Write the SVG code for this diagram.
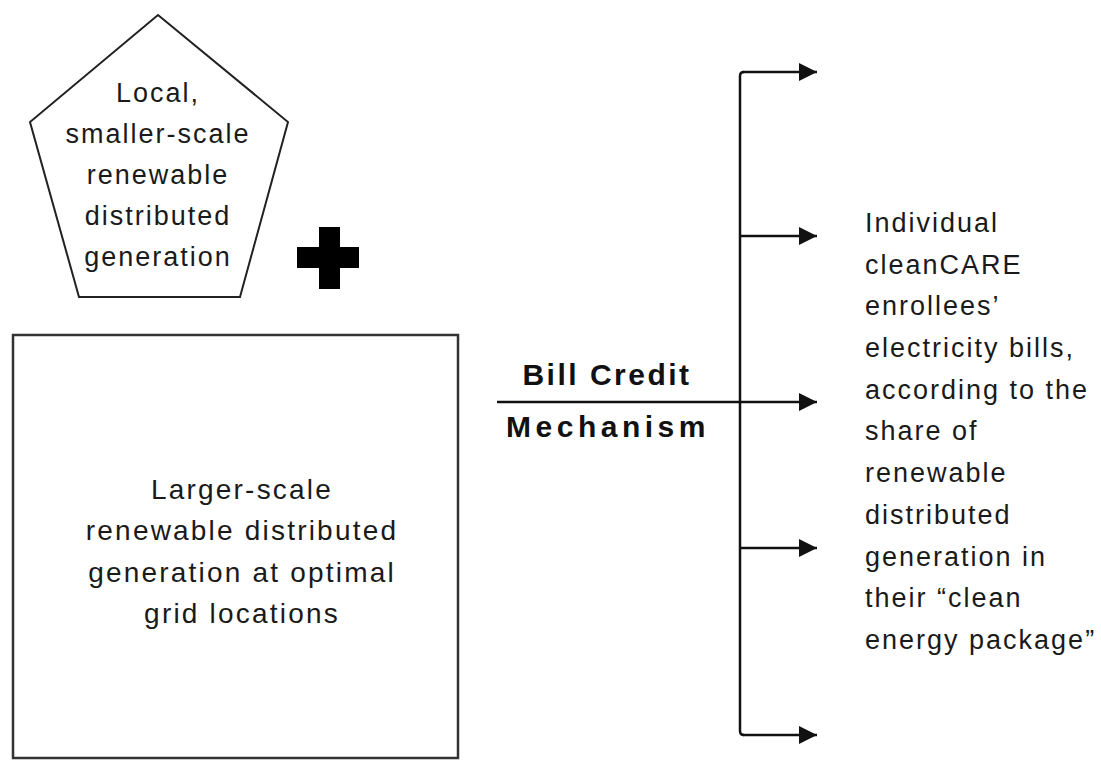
<svg xmlns="http://www.w3.org/2000/svg" width="1101" height="760" viewBox="0 0 1101 760">
<style>
.lbl{font-family:"Liberation Sans",Arial,sans-serif;font-size:27px;fill:#1a1a1a;letter-spacing:2px}
.big{font-size:28px;letter-spacing:2.2px}
.mid{text-anchor:middle}
.bold{font-family:"Liberation Sans",Arial,sans-serif;font-size:30px;font-weight:bold;fill:#111;letter-spacing:2.5px;text-anchor:middle}
.shape{fill:#fff;stroke:#222;stroke-width:2}
.conn{stroke:#111;stroke-width:2.5;fill:none}
</style>
<defs>
<marker id="arr" markerUnits="userSpaceOnUse" markerWidth="20" markerHeight="18" refX="18" refY="9" orient="auto">
<path d="M0,0 L18,9 L0,18 Z" fill="#111"/>
</marker>
</defs>
<rect width="1101" height="760" fill="#fff"/>
<g id="pentagon">
<polygon class="shape" points="158,15 288,122 240,297 79,297 30,122"/>
<text class="lbl mid" x="158" y="102">Local,</text>
<text class="lbl mid" x="158" y="143">smaller-scale</text>
<text class="lbl mid" x="158" y="184">renewable</text>
<text class="lbl mid" x="158" y="225">distributed</text>
<text class="lbl mid" x="158" y="266">generation</text>
</g>
<g id="plus">
<rect x="319" y="227" width="21" height="62" fill="#000"/>
<rect x="297" y="247" width="62" height="21" fill="#000"/>
</g>
<g id="box">
<rect x="13" y="335" width="445" height="423" fill="#fff" stroke="#333" stroke-width="2.5"/>
<text class="lbl big mid" x="242" y="499">Larger-scale</text>
<text class="lbl big mid" x="242" y="540">renewable distributed</text>
<text class="lbl big mid" x="242" y="582">generation at optimal</text>
<text class="lbl big mid" x="242" y="623">grid locations</text>
</g>
<g id="mechanism">
<text class="bold" x="607" y="385">Bill Credit</text>
<text class="bold" x="608" y="437" style="letter-spacing:4.5px">Mechanism</text>
</g>
<g id="connectors">
<line class="conn" x1="497" y1="402" x2="817" y2="402" marker-end="url(#arr)"/>
<path class="conn" d="M740 731 V76 Q740 72 744 72"/>
<path class="conn" d="M740 731 Q740 735 744 735"/>
<line class="conn" x1="743" y1="72" x2="817" y2="72" marker-end="url(#arr)"/>
<line class="conn" x1="740" y1="236" x2="817" y2="236" marker-end="url(#arr)"/>
<line class="conn" x1="740" y1="548" x2="817" y2="548" marker-end="url(#arr)"/>
<line class="conn" x1="743" y1="735" x2="817" y2="735" marker-end="url(#arr)"/>
</g>
<g id="enrollees">
<text class="lbl" x="865" y="232">Individual</text>
<text class="lbl" x="865" y="274">cleanCARE</text>
<text class="lbl" x="865" y="315">enrollees’</text>
<text class="lbl" x="865" y="357">electricity bills,</text>
<text class="lbl" x="865" y="399">according to the</text>
<text class="lbl" x="865" y="440">share of</text>
<text class="lbl" x="865" y="482">renewable</text>
<text class="lbl" x="865" y="524">distributed</text>
<text class="lbl" x="865" y="566">generation in</text>
<text class="lbl" x="865" y="607">their “clean</text>
<text class="lbl" x="865" y="649">energy package”</text>
</g>
</svg>
